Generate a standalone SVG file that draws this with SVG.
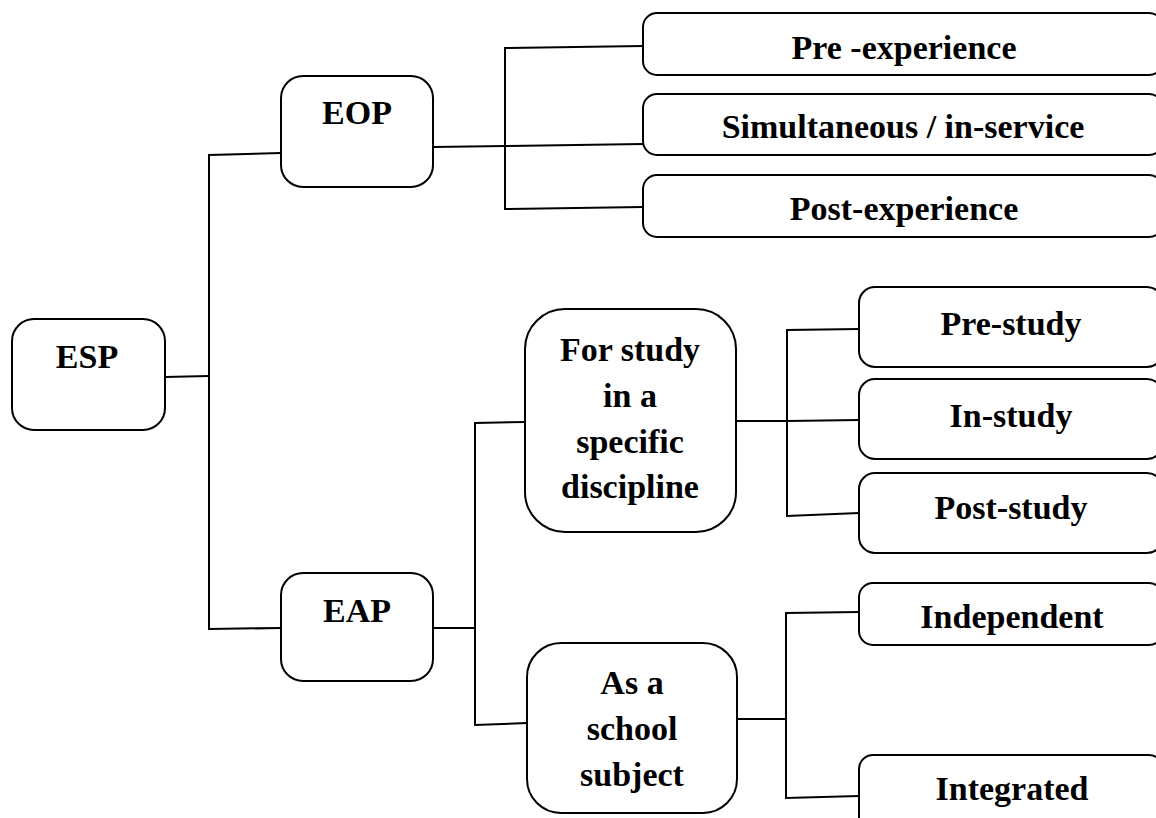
<svg xmlns="http://www.w3.org/2000/svg" width="1156" height="818" viewBox="0 0 1156 818">
  <style>
    .box { fill: #ffffff; stroke: #000000; stroke-width: 2; }
    .lbl { font-family: "Liberation Serif", "Times New Roman", serif; font-weight: bold; font-size: 34px; fill: #000000; text-anchor: middle; }
    .wire { fill: none; stroke: #000000; stroke-width: 2; }
  </style>
  <rect x="0" y="0" width="1156" height="818" fill="#ffffff"/>

  <!-- connectors -->
  <g id="connectors">
    <!-- ESP to EOP / EAP -->
    <polyline class="wire" points="165,377 209,376"/>
    <polyline class="wire" points="281,153 209,155 209,629 281,628"/>
    <!-- EOP to its three branches -->
    <polyline class="wire" points="433,147 505,146 643,144"/>
    <polyline class="wire" points="643,46 505,48 505,209 643,207"/>
    <!-- EAP to its two branches -->
    <polyline class="wire" points="433,628 475,628"/>
    <polyline class="wire" points="525,422 475,423 475,725 527,723"/>
    <!-- For study branches -->
    <polyline class="wire" points="736,421 787,421 859,420"/>
    <polyline class="wire" points="859,329 787,330 787,516 859,513"/>
    <!-- School subject branches -->
    <polyline class="wire" points="737,719 786,719"/>
    <polyline class="wire" points="859,612 786,613 786,798 859,796"/>
  </g>

  <g id="esp">
    <rect class="box" x="12" y="319" width="153" height="111" rx="22"/>
    <text class="lbl" x="87" y="368">ESP</text>
  </g>

  <g id="eop">
    <rect class="box" x="281" y="76" width="152" height="111" rx="22"/>
    <text class="lbl" x="357" y="124">EOP</text>
  </g>

  <g id="eap">
    <rect class="box" x="281" y="573" width="152" height="108" rx="22"/>
    <text class="lbl" x="357" y="622">EAP</text>
  </g>

  <g id="pre-experience">
    <rect class="box" x="643" y="13" width="520" height="62" rx="14"/>
    <text class="lbl" x="904" y="59">Pre -experience</text>
  </g>

  <g id="simultaneous">
    <rect class="box" x="643" y="94" width="520" height="61" rx="14"/>
    <text class="lbl" x="903" y="138">Simultaneous / in-service</text>
  </g>

  <g id="post-experience">
    <rect class="box" x="643" y="175" width="520" height="62" rx="14"/>
    <text class="lbl" x="904" y="220">Post-experience</text>
  </g>

  <g id="for-study">
    <rect class="box" x="525" y="309" width="211" height="223" rx="40"/>
    <text class="lbl" x="630" y="361">For study</text>
    <text class="lbl" x="630" y="407">in a</text>
    <text class="lbl" x="630" y="453">specific</text>
    <text class="lbl" x="630" y="498">discipline</text>
  </g>

  <g id="school-subject">
    <rect class="box" x="527" y="643" width="210" height="170" rx="34"/>
    <text class="lbl" x="632" y="694">As a</text>
    <text class="lbl" x="632" y="740">school</text>
    <text class="lbl" x="632" y="786">subject</text>
  </g>

  <g id="pre-study">
    <rect class="box" x="859" y="287" width="304" height="80" rx="16"/>
    <text class="lbl" x="1011" y="335">Pre-study</text>
  </g>

  <g id="in-study">
    <rect class="box" x="859" y="379" width="304" height="80" rx="16"/>
    <text class="lbl" x="1011" y="427">In-study</text>
  </g>

  <g id="post-study">
    <rect class="box" x="859" y="473" width="304" height="80" rx="16"/>
    <text class="lbl" x="1011" y="519">Post-study</text>
  </g>

  <g id="independent">
    <rect class="box" x="859" y="583" width="304" height="62" rx="14"/>
    <text class="lbl" x="1012" y="628">Independent</text>
  </g>

  <g id="integrated">
    <rect class="box" x="859" y="755" width="304" height="80" rx="14"/>
    <text class="lbl" x="1012" y="800">Integrated</text>
  </g>
</svg>
